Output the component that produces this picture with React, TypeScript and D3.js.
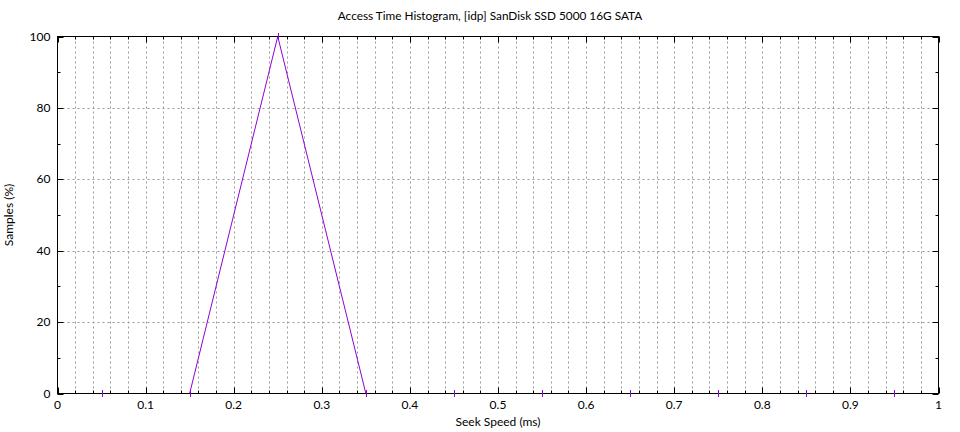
import React from "react";
import * as d3 from "d3";

const title = "Access Time Histogram, [idp] SanDisk SSD 5000 16G SATA";
const xLabel = "Seek Speed (ms)";
const yLabel = "Samples (%)";
const seekMs = [0.05, 0.15, 0.25, 0.35, 0.45, 0.55, 0.65, 0.75, 0.85, 0.95];
const samplesPct = [0, 0, 100, 0, 0, 0, 0, 0, 0, 0];
const xTicks = [0, 0.1, 0.2, 0.3, 0.4, 0.5, 0.6, 0.7, 0.8, 0.9, 1];
const yTicks = [0, 20, 40, 60, 80, 100];

const W = 960, H = 432;
const L = 57.5, R = 938.5, T = 36.5, B = 393.5;
const FONT = "Lato, 'Noto Sans', sans-serif";

export default function App() {
  const x = d3.scaleLinear().domain([0, 1]).range([L, R]);
  const y = d3.scaleLinear().domain([0, 100]).range([B, T]);
  const xGrid = d3.range(1, 50).map((i) => i * 0.02);
  const yMinor = d3.range(1, 10).map((i) => i * 10).filter((v) => v % 20 !== 0);
  const xMinor = xGrid.filter((_, i) => (i + 1) % 5 !== 0);
  const line = d3
    .line<number>()
    .x((_, i) => x(seekMs[i]))
    .y((d) => y(d));
  const pts = seekMs.map((s, i) => [s, samplesPct[i]]);
  const fmt = (v: number) => (v === 0 || v === 1 ? String(v) : d3.format(".1f")(v));
  return (
    <svg width={W} height={H} style={{ position: "absolute", left: 0, top: 0, background: "#fff" }} fontFamily={FONT}>
      <rect width={W} height={H} fill="#fff" />
      <g stroke="#999" strokeWidth={1} strokeDasharray="2,3">
        {xGrid.map((v) => (
          <line key={"gx" + v} x1={Math.round(x(v)) + 0.5} x2={Math.round(x(v)) + 0.5} y1={T} y2={B} />
        ))}
        {yTicks.slice(1, -1).map((v) => (
          <line key={"gy" + v} x1={L} x2={R} y1={Math.round(y(v)) + 0.5} y2={Math.round(y(v)) + 0.5} />
        ))}
      </g>
      <path d={line(samplesPct) || ""} fill="none" stroke="#9400d3" strokeWidth={1} />
      <g stroke="#000" strokeWidth={1}>
        {yTicks.map((v) => (
          <g key={"ty" + v}>
            <line x1={L} x2={L + 6} y1={Math.round(y(v)) + 0.5} y2={Math.round(y(v)) + 0.5} />
            <line x1={R} x2={R - 6} y1={Math.round(y(v)) + 0.5} y2={Math.round(y(v)) + 0.5} />
          </g>
        ))}
        {yMinor.map((v) => (
          <g key={"my" + v}>
            <line x1={L} x2={L + 3} y1={Math.round(y(v)) + 0.5} y2={Math.round(y(v)) + 0.5} />
            <line x1={R} x2={R - 3} y1={Math.round(y(v)) + 0.5} y2={Math.round(y(v)) + 0.5} />
          </g>
        ))}
        {xTicks.map((v) => (
          <g key={"tx" + v}>
            <line x1={Math.round(x(v)) + 0.5} x2={Math.round(x(v)) + 0.5} y1={B} y2={B - 6} />
            <line x1={Math.round(x(v)) + 0.5} x2={Math.round(x(v)) + 0.5} y1={T} y2={T + 6} />
          </g>
        ))}
        {xMinor.map((v) => (
          <g key={"mx" + v}>
            <line x1={Math.round(x(v)) + 0.5} x2={Math.round(x(v)) + 0.5} y1={B} y2={B - 3} />
            <line x1={Math.round(x(v)) + 0.5} x2={Math.round(x(v)) + 0.5} y1={T} y2={T + 3} />
          </g>
        ))}
        <rect x={L} y={T} width={R - L} height={B - T} fill="none" />
      </g>
      <g stroke="#9400d3" strokeWidth={1}>
        {pts.map(([s, v]) => (
          <line key={"p" + s} x1={Math.round(x(s)) + 0.5} x2={Math.round(x(s)) + 0.5} y1={y(v) - 3.5} y2={y(v) + 3.5} />
        ))}
      </g>
      <g fontSize={12} fill="#000">
        <text x={490} y={20} textAnchor="middle" fontSize={11.8}>{title}</text>
        {yTicks.map((v) => (
          <text key={"ly" + v} x={L - 7} y={y(v) + 4} textAnchor="end">{v}</text>
        ))}
        {xTicks.map((v) => (
          <text key={"lx" + v} x={x(v)} y={409} textAnchor="middle">{fmt(v)}</text>
        ))}
        <text x={498} y={426} textAnchor="middle">{xLabel}</text>
        <text transform={`translate(13,${(T + B) / 2}) rotate(-90)`} textAnchor="middle">{yLabel}</text>
      </g>
    </svg>
  );
}
